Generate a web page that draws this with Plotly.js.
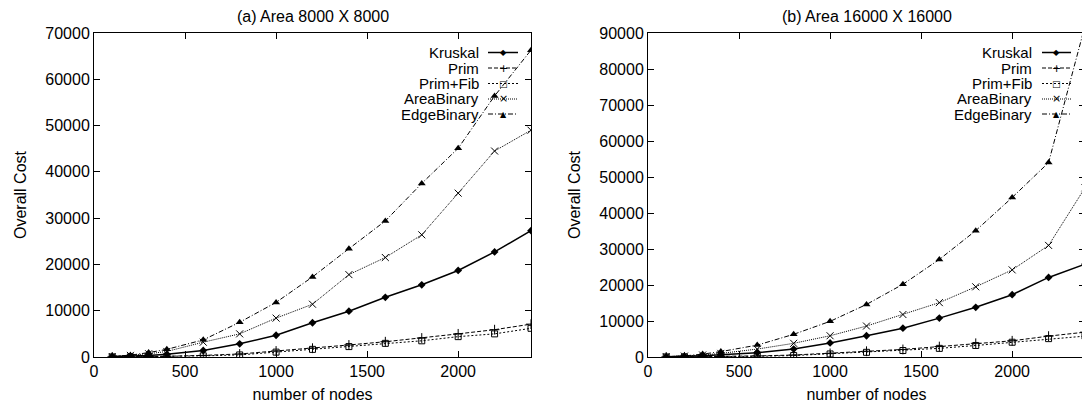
<!DOCTYPE html>
<html>
<head>
<meta charset="utf-8">
<script src="https://cdn.plot.ly/plotly-3.0.1.min.js"></script>
<style>
  html, body { margin: 0; padding: 0; background: #fff; overflow: hidden; width: 1082px; height: 407px; }
  #chart { width: 1090px; height: 407px; }
</style>
</head>
<body>
<div id="chart"></div>
<script>
// ---------- data ----------
const nodes = [100, 200, 300, 400, 600, 800, 1000, 1200, 1400, 1600, 1800, 2000, 2200, 2400];
const seriesNames = ["Kruskal", "Prim", "Prim+Fib", "AreaBinary", "EdgeBinary"];

// (a) Area 8000 X 8000
const kruskalA    = [100, 200, 350, 600, 1400, 2850, 4700, 7400, 9900, 12900, 15600, 18700, 22700, 27300];
const primA       = [20, 50, 100, 150, 350, 650, 1300, 1900, 2600, 3300, 4100, 5000, 5900, 7100];
const primFibA    = [20, 40, 80, 120, 250, 450, 1050, 1650, 2250, 2950, 3500, 4400, 5000, 6200];
const areaBinA    = [100, 350, 700, 1200, 3200, 5000, 8400, 11400, 17800, 21500, 26400, 35400, 44500, 49000];
const edgeBinA    = [150, 400, 950, 1650, 3700, 7500, 11800, 17300, 23400, 29400, 37500, 45100, 56400, 66300];

// (b) Area 16000 X 16000
const kruskalB    = [50, 150, 350, 600, 1200, 2200, 3900, 5900, 8000, 10800, 13800, 17300, 22100, 25800];
const primB       = [20, 40, 80, 150, 300, 550, 1000, 1600, 2100, 2900, 3800, 4500, 5800, 6900];
const primFibB    = [20, 40, 70, 100, 200, 400, 850, 1300, 1800, 2400, 3200, 4100, 5100, 5800];
const areaBinB    = [100, 250, 550, 1000, 2200, 3800, 5900, 8600, 11800, 15100, 19500, 24200, 31000, 47000];
const edgeBinB    = [100, 300, 800, 1500, 3300, 6300, 9900, 14600, 20200, 27100, 35100, 44300, 54000, 92000];

const titleA = "(a) Area 8000 X 8000";
const titleB = "(b) Area 16000 X 16000";
const xTitle = "number of nodes";
const yTitle = "Overall Cost";

// ---------- styles ----------
const FONT = "Liberation Sans, Arial, Helvetica, sans-serif";
const TICK_SIZE = 16, TITLE_SIZE = 16, KEY_SIZE = 15;
const styles = [
  {dash: "solid",            width: 1.5, symbol: "diamond",      msize: 6, mline: 0},
  {dash: "4px,2px",          width: 1,   symbol: "cross-thin",   msize: 7, mline: 1},
  {dash: "2px,2px",          width: 1,   symbol: "square-open",  msize: 6, mline: 1},
  {dash: "1px,1px",          width: 1,   symbol: "x-thin",       msize: 7, mline: 1},
  {dash: "5px,2px,1px,2px",  width: 1,   symbol: "triangle-up",  msize: 7, mline: 0}
];

const dataA = [kruskalA, primA, primFibA, areaBinA, edgeBinA];
const dataB = [kruskalB, primB, primFibB, areaBinB, edgeBinB];

const traces = [];
function addSeries(arrs, xa, ya) {
  arrs.forEach((ys, i) => {
    const s = styles[i];
    traces.push({
      x: nodes, y: ys, xaxis: xa, yaxis: ya,
      type: "scatter", mode: "lines+markers", name: seriesNames[i],
      showlegend: false, cliponaxis: true,
      line: {color: "#000", width: s.width, dash: s.dash},
      marker: {symbol: s.symbol, size: s.msize, color: "#000",
               line: {color: "#000", width: s.mline}}
    });
  });
}
addSeries(dataA, "x", "y");
addSeries(dataB, "x2", "y2");

// ---------- layout geometry ----------
const W = 1090, H = 407;
const px = v => v / W;          // horizontal px -> paper
const py = v => (H - v) / H;    // vertical px (from top) -> paper

function xAxis(domain, anchor) {
  return {
    domain: domain, anchor: anchor, range: [0, 2400], dtick: 500, tick0: 0,
    ticks: "inside", ticklen: 6, tickwidth: 1, tickcolor: "#000",
    showline: true, linecolor: "#000", linewidth: 1, mirror: "allticks",
    showgrid: false, zeroline: false, tickformat: "d",
    tickfont: {family: FONT, size: TICK_SIZE, color: "#000"},
    title: {text: xTitle, font: {family: FONT, size: TITLE_SIZE, color: "#000"}, standoff: 9},
    automargin: false, fixedrange: true
  };
}
function yAxis(domain, anchor, maxv) {
  return {
    domain: domain, anchor: anchor, range: [0, maxv], dtick: 10000, tick0: 0,
    ticks: "inside", ticklen: 6, tickwidth: 1, tickcolor: "#000",
    showline: true, linecolor: "#000", linewidth: 1, mirror: "allticks",
    showgrid: false, zeroline: false, tickformat: "d",
    tickfont: {family: FONT, size: TICK_SIZE, color: "#000"},
    title: {text: yTitle, font: {family: FONT, size: TITLE_SIZE, color: "#000"}, standoff: 14},
    automargin: false, fixedrange: true
  };
}

const yDom = [py(357), py(33)];
const layout = {
  width: W, height: H,
  margin: {l: 0, r: 0, t: 0, b: 0},
  paper_bgcolor: "#fff", plot_bgcolor: "#fff",
  showlegend: false,
  font: {family: FONT, color: "#000"},
  xaxis: xAxis([px(94), px(531)], "y"),
  yaxis: yAxis(yDom, "x", 70000),
  xaxis2: xAxis([px(648), px(1085)], "y2"),
  yaxis2: yAxis(yDom, "x2", 90000),
  annotations: [],
  shapes: []
};

// subplot titles
layout.annotations.push({text: titleA, xref: "paper", yref: "paper", x: px(312.5), y: py(17),
  xanchor: "center", yanchor: "middle", showarrow: false, font: {family: FONT, size: TITLE_SIZE, color: "#000"}});
layout.annotations.push({text: titleB, xref: "paper", yref: "paper", x: px(866.5), y: py(17),
  xanchor: "center", yanchor: "middle", showarrow: false, font: {family: FONT, size: TITLE_SIZE, color: "#000"}});

// gnuplot-style keys: text right-aligned, then sample line with marker
const glyphs = [
  {t: "\u25C6", s: 8},   // diamond
  {t: "+", s: 11},
  {t: "\u25A1", s: 9},   // open square
  {t: "\u00D7", s: 11},
  {t: "\u25B2", s: 8}    // triangle
];
const keyRows = [52.5, 68, 83.5, 99, 114];
function addKey(textRight, sampleL, sampleR) {
  seriesNames.forEach((nm, i) => {
    const yy = keyRows[i];
    layout.annotations.push({text: nm, xref: "paper", yref: "paper", x: px(textRight), y: py(yy),
      xanchor: "right", yanchor: "middle", showarrow: false,
      font: {family: FONT, size: KEY_SIZE, color: "#000"}});
    layout.shapes.push({type: "line", xref: "paper", yref: "paper",
      x0: px(sampleL), x1: px(sampleR), y0: py(yy), y1: py(yy),
      line: {color: "#000", width: styles[i].width, dash: styles[i].dash}});
    layout.annotations.push({text: glyphs[i].t, xref: "paper", yref: "paper",
      x: px((sampleL + sampleR) / 2), y: py(yy), xanchor: "center", yanchor: "middle",
      showarrow: false, font: {family: "DejaVu Sans", size: glyphs[i].s, color: "#000"}});
  });
}
addKey(481, 488, 518);
addKey(1034, 1042, 1071);

Plotly.newPlot("chart", traces, layout, {staticPlot: true, displayModeBar: false});
</script>
</body>
</html>
